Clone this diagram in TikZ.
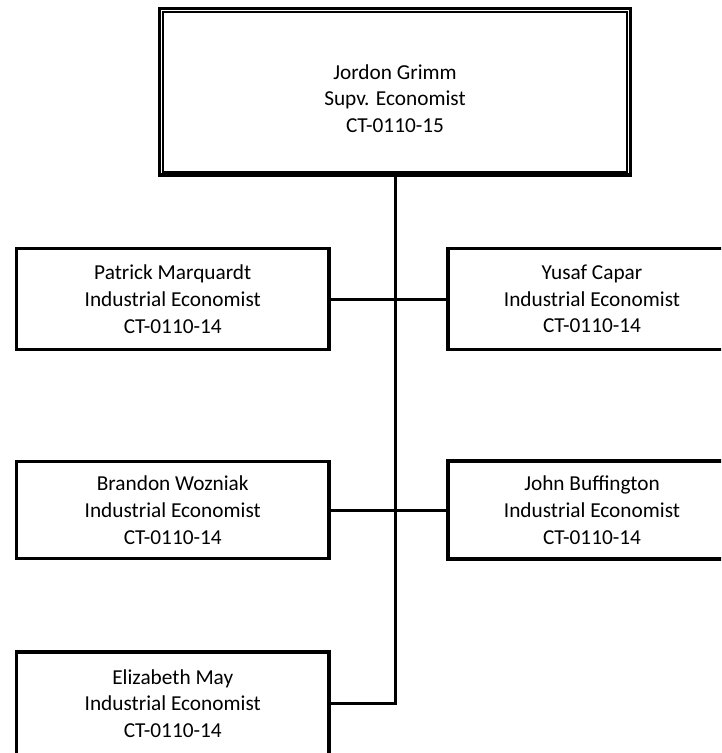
\documentclass[tikz,border=0pt]{standalone}
\usepackage{fontspec}
\setmainfont{Carlito}
\begin{document}
\begin{tikzpicture}[x=1pt,y=-1pt,
  every node/.style={inner sep=0pt},
  cardtext/.style={align=center, font=\fontsize{21.3}{26.7}\selectfont},
  card/.style={cardtext, draw, line width=3.3pt},
  link/.style={line width=3pt}]
  \useasboundingbox[fill=white] (0,0) rectangle (721,753);
  \clip (0,0) rectangle (721,753);

  % supervisor box with a thick-thin double frame
  \node[draw, line width=3.4pt, minimum width=471pt, minimum height=166.5pt] (top) at (395,91.75) {};
  \draw[line width=2pt] ([shift={(5,5)}]top.north west) rectangle ([shift={(-5,-5)}]top.south east);
  \node[cardtext] (toptext) at (395,98.5) {Jordon Grimm\\Supv. Economist\\CT-0110-15};

  % staff boxes
  \node[card, minimum width=312.5pt, minimum height=101pt] (pm) at (172.75,299) {Patrick Marquardt\\Industrial Economist\\CT-0110-14};
  \node[card, minimum width=288pt, minimum height=101pt] (yc) at (592,299) {Yusaf Capar\\Industrial Economist\\CT-0110-14};
  \node[card, minimum width=312.5pt, minimum height=97pt] (bw) at (172.75,510) {Brandon Wozniak\\Industrial Economist\\CT-0110-14};
  \node[card, minimum width=288pt, minimum height=98pt] (jb) at (592,510) {John Buffington\\Industrial Economist\\CT-0110-14};
  \node[card, minimum width=312.5pt, minimum height=103pt] (em) at (172.75,703.5) {Elizabeth May\\Industrial Economist\\CT-0110-14};

  % reporting lines
  \draw[link] (top.south) -- (top.south |- em.east) -- (em.east);
  \draw[link] (pm.east) -- (yc.west);
  \draw[link] (bw.east) -- (jb.west);
\end{tikzpicture}
\end{document}
